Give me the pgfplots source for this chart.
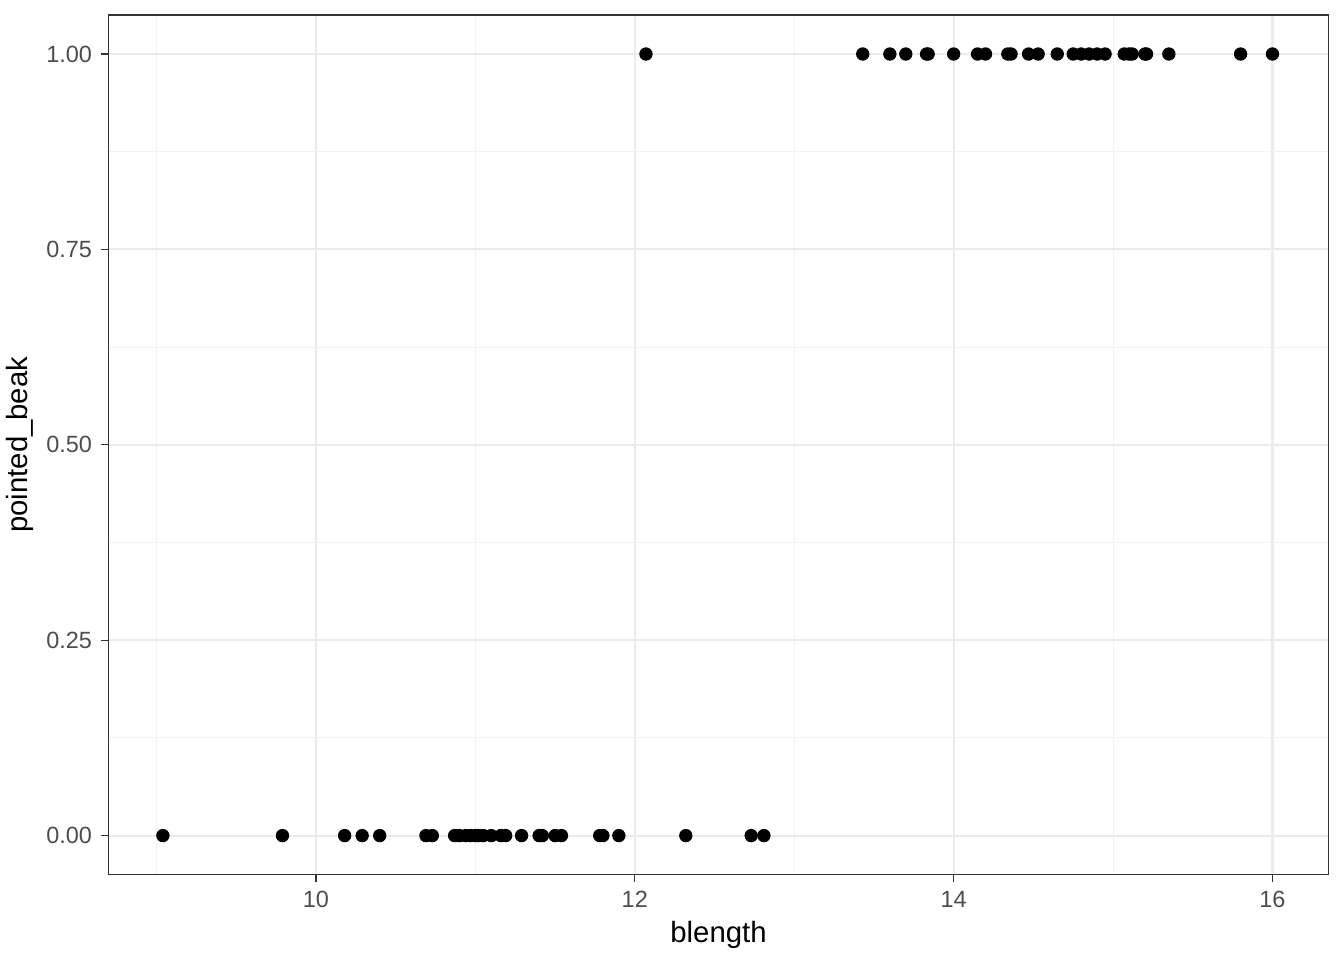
\documentclass[border=0pt]{standalone}
\usepackage{pgfplots}
\pgfplotsset{compat=1.18}
\usepackage{fontspec}
\setmainfont{Liberation Sans}
\definecolor{gridmaj}{HTML}{EBEBEB}
\definecolor{gridmin}{HTML}{F2F2F2}
\definecolor{g20}{HTML}{333333}
\definecolor{g30}{HTML}{4D4D4D}
\begin{document}
\begin{tikzpicture}
\path[use as bounding box] (-40.76pt,-32pt) rectangle (463.24pt,328pt);
\begin{axis}[
  scale only axis,
  width=457.35pt, height=322.4pt,
  xmin=8.70, xmax=16.35,
  ymin=-0.05, ymax=1.05,
  xtick={10,12,14,16},
  minor xtick={9,11,13,15},
  ytick={0,0.25,0.5,0.75,1},
  minor ytick={0.125,0.375,0.625,0.875},
  yticklabels={0.00,0.25,0.50,0.75,1.00},
  grid=both,
  major grid style={gridmaj, line width=0.8pt},
  minor grid style={gridmin, line width=0.4pt},
  axis line style={g20, line width=0.5pt},
  tick style={g20, line width=0.5pt},
  tick align=outside,
  major tick length=2.75pt,
  minor tick length=0pt,
  xtick pos=bottom, ytick pos=left,
  ticklabel style={font=\fontsize{8.8}{10}\selectfont, text=g30},
  /pgf/number format/assume math mode=true,
  xlabel={blength},
  ylabel={pointed\_beak},
  label style={font=\fontsize{11}{13}\selectfont, text=black},
  xlabel style={yshift=2pt},
  ylabel style={yshift=-2pt},
]
\addplot[only marks, mark=*, mark size=2.3pt, black] coordinates {
(9.04,0) (9.79,0) (10.18,0) (10.29,0) (10.40,0) (10.69,0) (10.73,0)
(10.87,0) (10.90,0) (10.94,0) (10.97,0) (11.0,0) (11.02,0) (11.05,0)
(11.10,0) (11.16,0) (11.19,0) (11.29,0) (11.40,0) (11.42,0) (11.50,0)
(11.54,0) (11.78,0) (11.80,0) (11.90,0) (12.32,0) (12.73,0) (12.81,0)
(12.07,1) (13.43,1) (13.60,1) (13.70,1) (13.83,1) (13.84,1) (14.0,1)
(14.15,1) (14.20,1) (14.34,1) (14.36,1) (14.47,1) (14.53,1) (14.65,1)
(14.75,1) (14.80,1) (14.85,1) (14.90,1) (14.95,1) (15.07,1) (15.10,1)
(15.12,1) (15.20,1) (15.21,1) (15.35,1) (15.80,1) (16.0,1)
};
\end{axis}
\end{tikzpicture}
\end{document}
